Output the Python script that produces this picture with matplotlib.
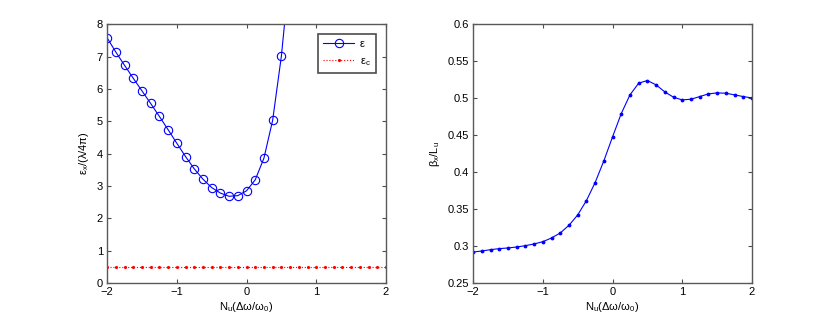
import numpy as np
import matplotlib.pyplot as plt

plt.rcParams['font.family'] = ['Liberation Sans', 'DejaVu Sans']
plt.rcParams['mathtext.fontset'] = 'custom'
plt.rcParams['mathtext.rm'] = 'Liberation Sans'
plt.rcParams['mathtext.default'] = 'regular'
plt.rcParams['font.size'] = 8

# detuning N_u(dw/w0), step 1/8
x_eps = np.arange(-2, 0.626, 0.125)
eps = [7.58, 7.14, 6.73, 6.33, 5.94, 5.55, 5.15, 4.74, 4.32, 3.91, 3.53,
       3.21, 2.95, 2.78, 2.68, 2.70, 2.85, 3.19, 3.86, 5.03, 7.01, 9.75]

x_full = np.arange(-2, 2.001, 0.125)
eps_c = [0.5] * len(x_full)

beta = [0.2919, 0.2933, 0.2951, 0.2965, 0.2974, 0.2987, 0.3005, 0.3028,
        0.3059, 0.3109, 0.3177, 0.3280, 0.3420, 0.3614, 0.3858, 0.4151,
        0.4476, 0.4791, 0.5044, 0.5202, 0.5238, 0.5179, 0.5084, 0.5012,
        0.4976, 0.4985, 0.5021, 0.5057, 0.5071, 0.5066, 0.5044, 0.5021,
        0.5003]

xlab = 'N$_u$(Δω/ω$_0$)'

fig = plt.figure(figsize=(8.3, 3.18), dpi=100)
ax1 = fig.add_axes([0.129, 0.110, 0.336, 0.814])
ax2 = fig.add_axes([0.570, 0.110, 0.336, 0.814])

ax1.plot(x_eps, eps, 'o-', color='blue', lw=0.8, ms=6, mfc='none',
         mew=0.8, label='ε')
ax1.plot(x_full, eps_c, ':', color='red', lw=0.8, marker='.', ms=2.5,
         label='ε$_c$')
ax1.set_xlim(-2, 2)
ax1.set_ylim(0, 8)
ax1.set_xticks([-2, -1, 0, 1, 2])
ax1.set_yticks(range(0, 9))
ax1.set_xlabel(xlab, labelpad=2)
ax1.set_ylabel('ε$_x$/(λ/4π)', labelpad=4)
leg = ax1.legend(loc='upper right', fancybox=False, edgecolor='0.3',
                 framealpha=1, borderpad=0.5, handlelength=2.8,
                 handletextpad=0.5, labelspacing=0.6,
                 bbox_to_anchor=(0.985, 0.985))
leg.get_frame().set_linewidth(1.2)

ax2.plot(x_full, beta, '.-', color='blue', lw=0.8, ms=3.5)
ax2.set_xlim(-2, 2)
ax2.set_ylim(0.25, 0.6)
ax2.set_xticks([-2, -1, 0, 1, 2])
ax2.set_yticks([0.25, 0.3, 0.35, 0.4, 0.45, 0.5, 0.55, 0.6])
ax2.set_yticklabels(['0.25', '0.3', '0.35', '0.4', '0.45', '0.5', '0.55', '0.6'])
ax2.set_xlabel(xlab, labelpad=2)
ax2.set_ylabel('β$_x$/L$_u$', labelpad=4)

for ax in (ax1, ax2):
    ax.tick_params(direction='in', top=True, right=True, length=3,
                   color='0.3', pad=3)
    for s in ax.spines.values():
        s.set_color('0.35')
        s.set_linewidth(1.0)

fig.savefig('out.png', dpi=100)
